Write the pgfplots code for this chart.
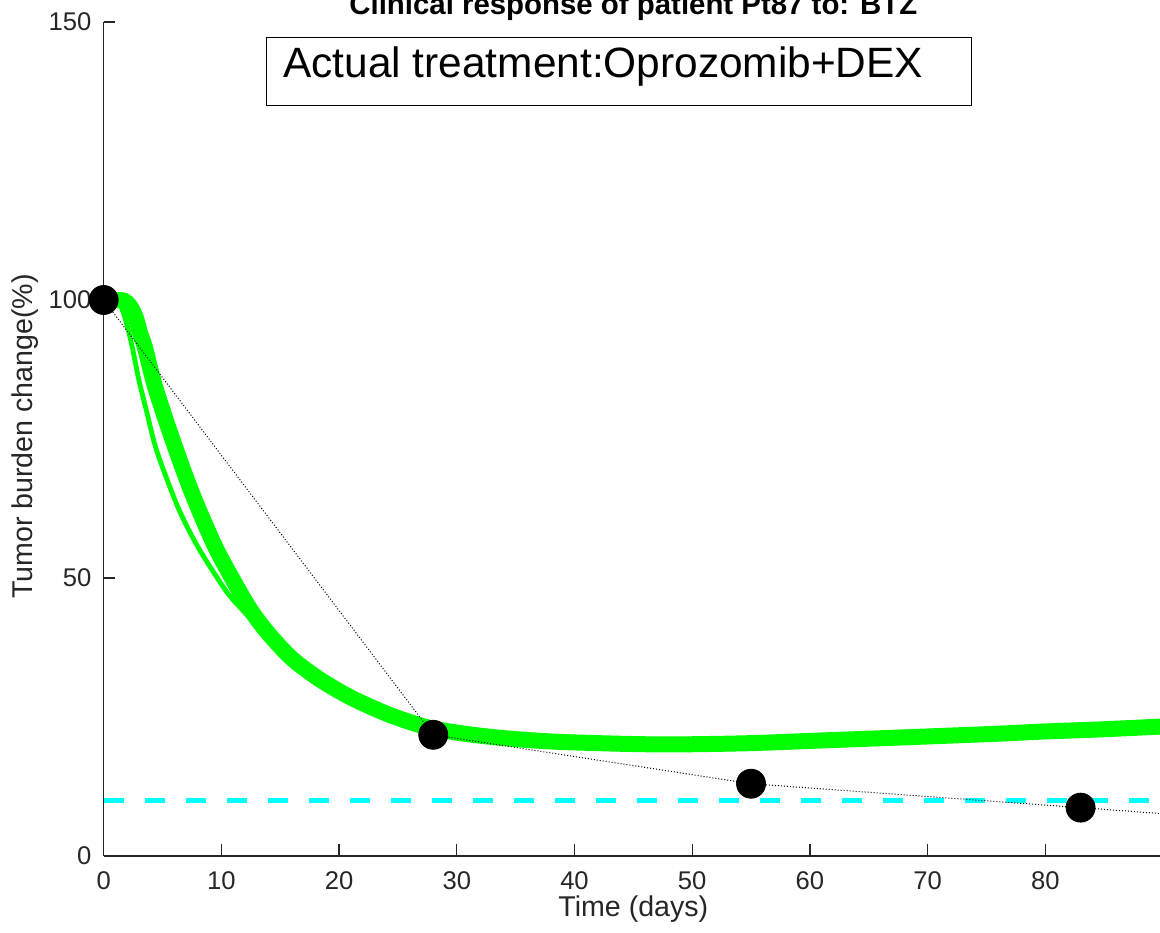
\documentclass[border=0pt]{standalone}
\usepackage{fontspec}
\setmainfont{Liberation Sans}
\usepackage{pgfplots}
\pgfplotsset{compat=1.18}
\definecolor{axgray}{HTML}{262626}
\definecolor{mgreen}{RGB}{0,255,0}
\definecolor{mcyan}{RGB}{0,255,255}

\begin{document}
\begin{tikzpicture}
\begin{axis}[
  width=529.65pt, height=417pt, scale only axis,
  xmin=0, xmax=90, ymin=0, ymax=150,
  clip=false,
  axis lines=left,
  axis line style={-, axgray, line width=0.65pt},
  xtick={0,10,...,80}, ytick={0,50,100,150},
  tick align=inside, major tick length=5.8pt,
  tick style={axgray, line width=0.65pt},
  /pgf/number format/assume math mode=true,
  ticklabel style={font=\fontsize{12.8}{15}\selectfont, text=axgray, inner sep=0pt},
  xticklabel style={anchor=north, yshift=-7.5pt},
  yticklabel style={anchor=east, xshift=-6pt},
  xlabel={Time (days)},
  xlabel style={at={(axis description cs:0.5,-0.0731)}, anchor=base,
    font=\fontsize{14.3}{17}\selectfont, text=axgray, inner sep=0pt},
  ylabel={Tumor burden change(\%)},
  ylabel style={at={(axis description cs:-0.06674,0.503)}, anchor=base,
    font=\fontsize{14.3}{17}\selectfont, text=axgray, inner sep=0pt},
  title={Clinical response of patient Pt87 to: BTZ},
  every axis title shift=0pt,
  title style={at={(axis description cs:0.5,1)}, anchor=base, yshift=3.5pt,
    font=\bfseries\fontsize{14.7}{17}\selectfont, inner sep=0pt},
]
% thin model curve
\addplot[mgreen, line width=2.4pt, smooth] coordinates {
  (0,100) (0.8,100) (1.3,99.5) (1.7,97.5) (2.1,94.5) (2.5,90.8) (3.0,85.5)
  (3.7,79.5) (4.4,73.6) (5.4,67.6) (6.5,61.8) (8.0,55.6) (9.9,49.2)
  (10.9,46.3) (12.5,42.6) (14,38.8) (16,34.8) (18.4,31.2)
};
% thick model curve
\addplot[mgreen, line width=8pt, smooth] coordinates {
  (0,100) (1,100) (1.7,99.9) (2.2,99.0) (2.7,97.0) (3.1,94.0) (3.5,91.5)
  (4.27,85.1) (5.2,78.9) (6.06,73.6) (7.1,67.5) (8.1,62.2) (9.5,55.5)
  (11,49.6) (12.5,44.2) (14,40.0) (16,35.5) (18.4,31.7) (21,28.5)
  (23.8,25.8) (26,24.1) (28,22.9) (31,21.9) (34,21.2) (38,20.6)
  (42,20.3) (46,20.1) (50,20.1) (55,20.3) (60,20.7) (65,21.1)
  (70,21.5) (76,22.0) (80,22.4) (85,22.8) (90,23.3)
};
% response threshold
\addplot[mcyan, line width=2.5pt, dash pattern=on 10pt off 10.5pt] coordinates {(0,10) (90,10)};
% measured response, joined
\addplot[black, line width=0.5pt, densely dotted] coordinates {
  (0,100) (28,21.8) (55,13) (83,8.7) (90,7.6)
};
\addplot[only marks, mark=*, mark size=7.25pt, black] coordinates {
  (0,100) (28,21.8) (55,13) (83,8.7)
};
\draw[black, line width=0.5pt] (axis cs:13.87,147.3) rectangle (axis cs:73.77,135.07);
\node[anchor=base west, inner sep=0pt, font=\fontsize{21.2}{25}\selectfont]
  at (axis cs:15.23,139.93) {Actual treatment:Oprozomib+DEX};
\end{axis}
\pgfresetboundingbox
\useasboundingbox (-51.85pt,-38pt) rectangle (528.15pt,428pt);
\end{tikzpicture}
\end{document}
